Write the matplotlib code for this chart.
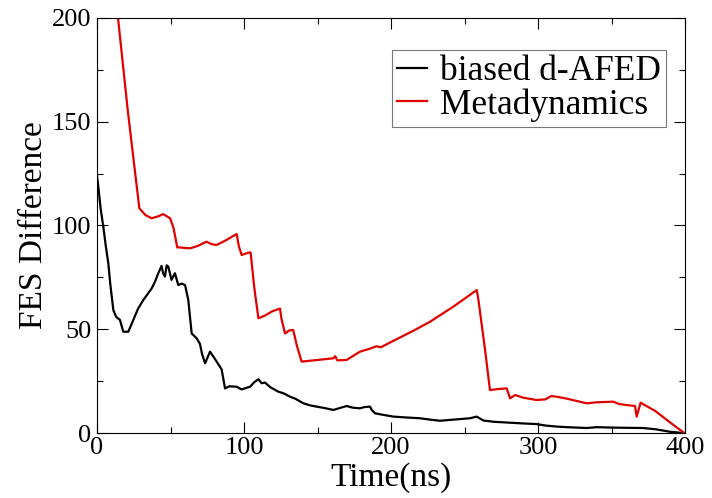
import matplotlib
matplotlib.use("Agg")
import matplotlib.pyplot as plt
from matplotlib.ticker import MultipleLocator

plt.rcParams['font.family'] = ['Liberation Serif', 'DejaVu Serif']

# biased d-AFED convergence
afed_t = [0, 1, 2.5, 4.3, 6, 7.7, 9, 11.1, 13, 15.6, 17.9, 21.3, 24.7, 28, 31.5, 34,
          37.2, 39.5, 41.7, 43.9, 45, 46.2, 47.4, 48.5, 50.7, 53, 55.3, 57.5, 59.9,
          62.1, 64.4, 67.8, 70, 71.5, 73.5, 76.9, 79, 81.4, 84.8, 87.1, 90, 95, 98.4,
          101, 104.1, 107, 109.8, 112, 114.3, 118, 123.4, 127, 131.3, 135, 140.4, 145,
          149.5, 155, 160.8, 165, 169.8, 174, 178.9, 182, 185.7, 187, 189.1, 195,
          201.6, 210, 219.7, 226, 233.3, 240, 246.9, 253.7, 258.3, 262.9, 270, 280,
          290, 299, 305, 312.7, 320, 333.1, 340, 351.2, 360, 371.5, 380, 389.8, 398.8]
afed_fes = [124, 118, 108, 99.4, 90, 81.8, 72, 59.3, 56, 54.5, 48.8, 48.8, 54.5, 60,
            64.1, 66.5, 69.7, 73, 77, 80.5, 77, 75.4, 80.8, 80.2, 73.8, 77, 71.3, 72,
            71.3, 64.1, 48, 45.6, 43, 38, 33.6, 39.2, 37, 34.4, 30.6, 21.5, 22.5, 22.3,
            21, 21.6, 22.3, 24.5, 25.9, 24, 24.3, 22, 19.9, 19.1, 17.5, 16.5, 14.3,
            13.3, 12.7, 12, 11.1, 12, 13, 12.2, 11.9, 12.5, 12.7, 11, 9.5, 8.7, 7.9,
            7.5, 7.1, 6.5, 5.9, 6.3, 6.7, 7.1, 7.9, 6, 5.4, 5, 4.6, 4.3, 3.6, 3.1, 2.8,
            2.4, 2.8, 2.6, 2.5, 2.4, 1.8, 0.6, 0]

# Metadynamics convergence
meta_t = [12, 14.3, 21, 28.8, 33, 37.2, 42, 45, 49.7, 52, 54.6, 58, 63.3,
          68, 74.5, 78, 81.4, 88, 95, 96.5, 98.4, 102.9, 104.5, 107, 109.8, 114, 118.8,
          124.5, 125.5, 127.9, 131, 133.5, 136, 139.2, 150, 160.8, 162, 163.5, 169.8,
          175, 178.9, 185, 190.2, 193, 203.8, 215, 226.5, 235, 242.4, 250, 258.3,
          259.5, 264, 267.3, 273, 278.7, 281, 284.4, 290, 299, 305, 309, 312.7, 320,
          333.1, 340, 351.2, 355, 360, 366, 367.1, 369.8, 380, 390, 399.5]
meta_fes = [212, 200, 155, 108.3, 105, 103.5, 104.5, 105.5, 103.5, 99,
            89.5, 89.3, 89, 90, 92.2, 91, 90.6, 93, 95.9, 90, 85.8, 86.9, 87, 70, 55.3,
            56.5, 58.5, 60, 55, 48, 49.5, 49.6, 42, 34.4, 35.2, 36, 37, 35, 35.2, 37.5,
            39.2, 40.5, 41.8, 41.3, 45.2, 49.2, 53.6, 57.5, 60.9, 64.7, 68.9, 64, 40,
            20.7, 21.2, 21.5, 16.7, 18.3, 17, 15.9, 16.2, 17.8, 17.5, 16.5, 14.3, 14.8,
            15.1, 14, 13.5, 13, 7.9, 14.6, 10.5, 5, 0]

fig = plt.figure(figsize=(7.12, 4.98), dpi=100)
ax = fig.add_axes([97 / 712, 1 - 433 / 498, 588 / 712, 415 / 498])

ax.plot(afed_t, afed_fes, color='black', lw=1.6, label='biased d-AFED')
ax.plot(meta_t, meta_fes, color='#e00000', lw=1.6, label='Metadynamics')

ax.set_xlim(0, 400)
ax.set_ylim(0, 200)
ax.xaxis.set_major_locator(MultipleLocator(100))
ax.xaxis.set_minor_locator(MultipleLocator(50))
ax.yaxis.set_major_locator(MultipleLocator(50))
ax.yaxis.set_minor_locator(MultipleLocator(25))
ax.tick_params(which='both', direction='in', top=True, right=True, width=0.8,
               labelsize=19)
ax.tick_params(axis='x', pad=3)
ax.tick_params(axis='y', pad=4)
ax.tick_params(which='major', length=8)
ax.tick_params(which='minor', length=4)
for s in ax.spines.values():
    s.set_linewidth(0.8)

ax.set_xlabel('Time(ns)', fontsize=24, labelpad=2)
ax.set_ylabel('FES Difference', fontsize=24, labelpad=2)

leg = ax.legend(loc='upper left', bbox_to_anchor=(391.7 / 712, 1 - 50 / 498),
                bbox_transform=fig.transFigure, fontsize=25.5, frameon=True,
                fancybox=False, edgecolor='#555555', handlelength=0.85,
                handletextpad=0.35, borderpad=0.15, labelspacing=0.0,
                borderaxespad=0)
leg.get_frame().set_linewidth(0.8)

fig.savefig('out.png', dpi=100)
